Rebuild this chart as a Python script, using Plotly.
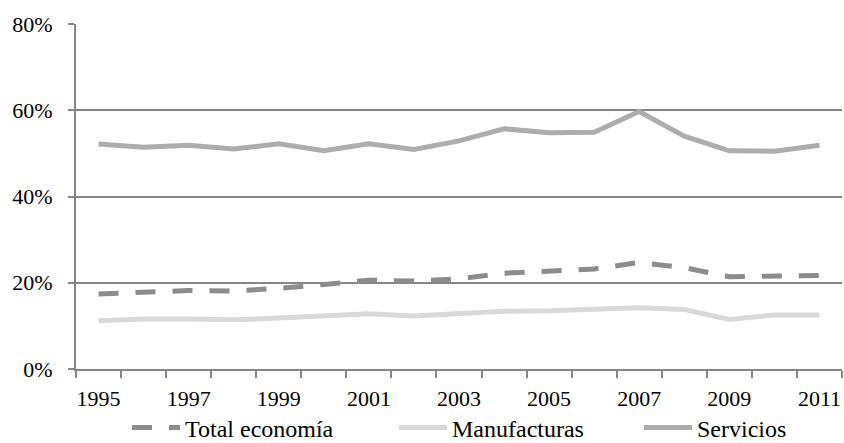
import plotly.graph_objects as go

years = list(range(1995, 2012))
total_economia = [17.4, 17.9, 18.2, 18.1, 18.7, 19.6, 20.6, 20.4, 20.9, 22.2,
                  22.6, 23.2, 24.7, 23.5, 21.4, 21.6, 21.7]
manufacturas = [11.2, 11.6, 11.6, 11.4, 11.8, 12.4, 12.8, 12.3, 12.8, 13.4,
                13.5, 13.8, 14.2, 13.8, 11.5, 12.5, 12.5]
servicios = [52.2, 51.4, 51.9, 51.0, 52.2, 50.6, 52.2, 50.9, 52.9, 55.7,
             54.8, 54.9, 59.7, 54.0, 50.6, 50.5, 51.9]
year_labels = [str(y) for y in range(1995, 2012, 2)]

font_family = "Liberation Serif"
axis_color = "#868686"

fig = go.Figure()
fig.add_trace(go.Scatter(x=years, y=total_economia, name="Total economía",
                         mode="lines", legend="legend",
                         line=dict(color="#8c8c8c", width=5, dash="20px,17px")))
fig.add_trace(go.Scatter(x=years, y=manufacturas, name="Manufacturas",
                         mode="lines", legend="legend2",
                         line=dict(color="#d9d9d9", width=5)))
fig.add_trace(go.Scatter(x=years, y=servicios, name="Servicios",
                         mode="lines", legend="legend3",
                         line=dict(color="#adadad", width=5)))

# one single-entry legend per series, laid out in a row under the axis
legend_common = dict(orientation="h", xref="container", yref="container",
                     y=0.034, yanchor="middle", xanchor="left",
                     font=dict(size=24), itemwidth=48,
                     bgcolor="rgba(0,0,0,0)")

fig.update_layout(
    width=844, height=443,
    margin=dict(l=76, r=2, t=24, b=74, autoexpand=False),
    paper_bgcolor="white", plot_bgcolor="white",
    font=dict(family=font_family, size=22, color="black"),
    showlegend=True,
    legend=dict(x=127 / 844, **legend_common),
    legend2=dict(x=394 / 844, **legend_common),
    legend3=dict(x=639 / 844, **legend_common),
)
fig.update_xaxes(
    range=[1994.5, 2011.5],
    tickmode="array", tickvals=list(range(1995, 2012, 2)),
    ticktext=year_labels, ticks="", ticklabelstandoff=9,
    showgrid=False, zeroline=False,
    showline=True, linecolor=axis_color, linewidth=2,
    minor=dict(tick0=1994.5, dtick=1, ticks="outside", ticklen=7,
               tickcolor=axis_color, tickwidth=2, showgrid=False),
)
fig.update_yaxes(
    range=[0, 80], dtick=20, ticksuffix="%",
    ticks="outside", ticklen=6, tickcolor=axis_color, tickwidth=2,
    ticklabelstandoff=11,
    showgrid=True, gridcolor=axis_color, gridwidth=1.5,
    zeroline=False,
    showline=True, linecolor=axis_color, linewidth=2,
)

fig.write_html("out.html")
